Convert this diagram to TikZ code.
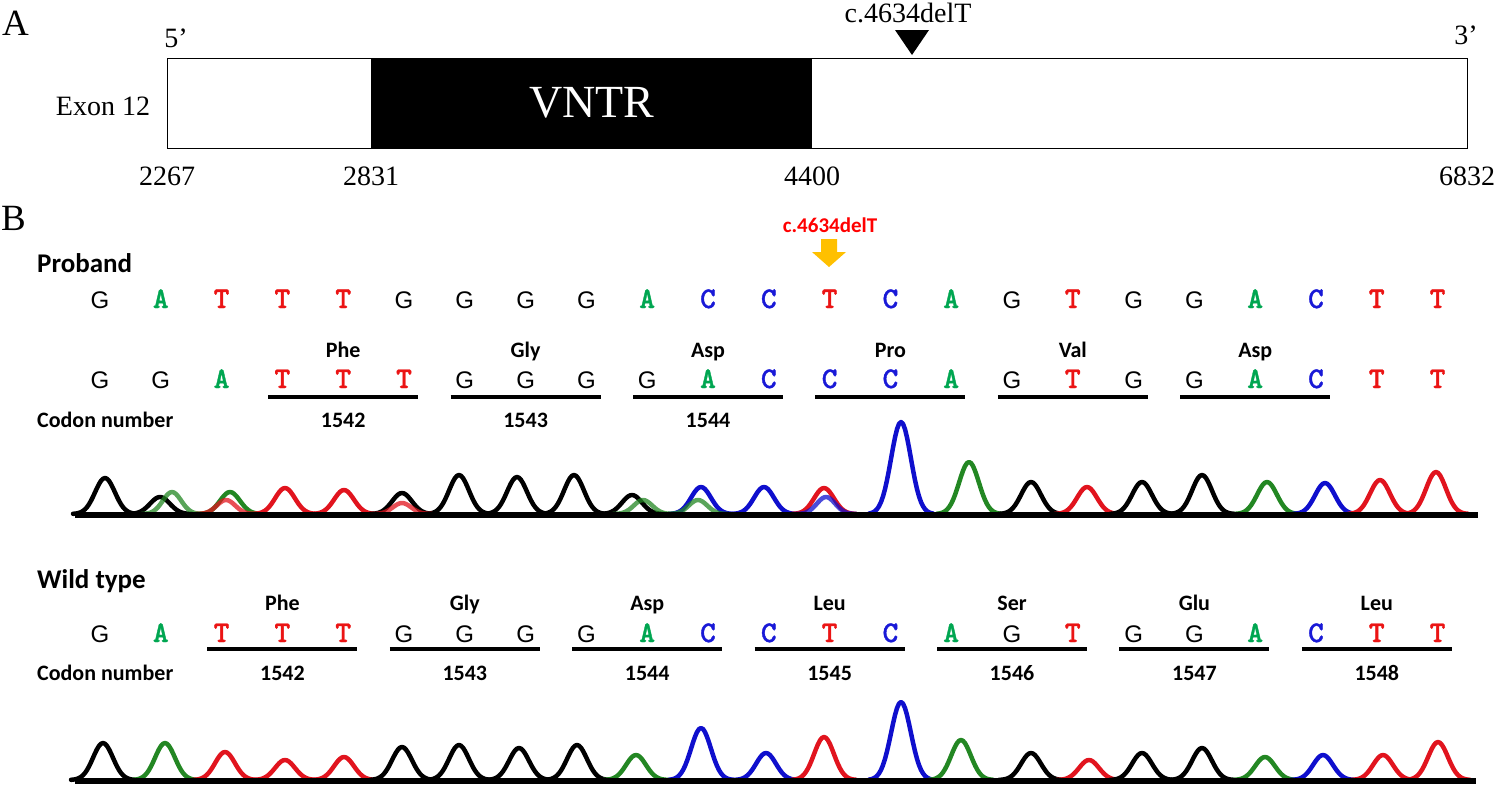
\documentclass[tikz,border=0pt]{standalone}
\usepackage{fontspec}
\setmainfont{Liberation Serif}
\newfontfamily\lblfont{Carlito}
\newfontfamily\seqGfont{Liberation Sans}
\newfontfamily\seqfont{lmmonolt10-bold.otf}[FakeBold=1.2]
\definecolor{baseA}{RGB}{0,166,81}
\definecolor{baseT}{RGB}{235,20,20}
\definecolor{baseC}{RGB}{25,25,215}
\definecolor{trG}{RGB}{35,135,35}
\definecolor{trR}{RGB}{225,20,30}
\definecolor{trB}{RGB}{15,15,205}
\definecolor{arrowyel}{RGB}{255,192,0}
\tikzset{
  every node/.style={inner sep=0pt},
  serif/.style={anchor=base, font=\fontsize{28}{28}\selectfont},
  ntG/.style={anchor=base, font=\seqGfont\fontsize{24}{24}\selectfont},
  ntA/.style={anchor=base, text=baseA, font=\seqfont\fontsize{30}{30}\selectfont},
  ntT/.style={anchor=base, text=baseT, font=\seqfont\fontsize{30}{30}\selectfont},
  ntC/.style={anchor=base, text=baseC, font=\seqfont\fontsize{30}{30}\selectfont},
  aalbl/.style={anchor=base, font=\lblfont\bfseries\fontsize{22}{22}\selectfont},
  title/.style={anchor=base west, font=\lblfont\bfseries\fontsize{27}{27}\selectfont},
  codonline/.style={line width=3.5pt},
  trace/.style={line width=4.5pt, line join=round, line cap=round},
}
\begin{document}
\begin{tikzpicture}[x=1pt,y=-1pt]
\useasboundingbox (0,0) rectangle (1495,788);
% A: exon 12 map
\node[anchor=base west, font=\fontsize{37}{37}\selectfont] (panelA) at (2,35) {A};
\node[draw, line width=1.3pt, minimum width=1300pt, minimum height=90pt, anchor=north west] (exon) at (167,58) {};
\node[fill=black, minimum width=441pt, minimum height=90pt, anchor=north west, text=white, font=\fontsize{46}{46}\selectfont] (vntr) at (371,58) {VNTR};
\node[serif] (exonlbl) at (103,115) {Exon 12};
\node[serif] (five) at (176,47) {5’};
\node[serif] (three) at (1466,44) {3’};
\foreach \px/\pos in {167/2267, 371/2831, 812/4400, 1467/6832}
  \node[serif] (pos\pos) at (\px,185) {\pos};
\node[serif] (delA) at (908,22) {c.4634delT};
\fill (895,30) -- (929,30) -- (912,55) -- cycle;
% B: sequences
\node[anchor=base west, font=\fontsize{37}{37}\selectfont] (panelB) at (1,230) {B};
\node[title] (proband) at (37,272) {Proband};
\node[anchor=base, text=red, font=\lblfont\bfseries\fontsize{21}{21}\selectfont] (delB) at (830,232) {c.4634delT};
\fill[arrowyel] (821,239) -- (837,239) -- (837,252) -- (846,252) -- (829,267) -- (812,252) -- (821,252) -- cycle;
\foreach \b [count=\i from 0] in {G,A,T,T,T,G,G,G,G,A,C,C,T,C,A,G,T,G,G,A,C,T,T}
  \node[nt\b] (top\i) at ({100+60.8*\i},308) {\b};
\foreach \b [count=\i from 0] in {G,G,A,T,T,T,G,G,G,G,A,C,C,C,A,G,T,G,G,A,C,T,T}
  \node[nt\b] (mut\i) at ({100+60.8*\i},388) {\b};
\foreach \c/\aa/\num [count=\k] in {343.2/Phe/1542, 525.6/Gly/1543, 708/Asp/1544} {
  \node[aalbl] (paa\k) at (\c,357) {\aa};
  \draw[codonline] (\c-75,397) -- (\c+75,397);
  \node[aalbl] (pnum\k) at (\c,427) {\num};
}
\foreach \c/\aa [count=\k from 4] in {890.4/Pro, 1072.8/Val, 1255.2/Asp} {
  \node[aalbl] (paa\k) at (\c,357) {\aa};
  \draw[codonline] (\c-75,397) -- (\c+75,397);
}
\node[aalbl, anchor=base west] (pcodon) at (37,427) {Codon number};
% proband trace
\foreach \c/\t/\col in {105/478/black, 160/497/black, 230/492/trG, 285/488/trR, 344/490/trR,
    402/493/black, 459/475/black, 517/477/black, 574/475/black, 632/495/black, 701/487/trB,
    764/487/trB, 824/488/trR, 901/422/trB, 969/462/trG, 1031/482/black, 1087/487/trR,
    1142/482/black, 1202/475/black, 1267/482/trG, 1325/483/trB, 1380/480/trR, 1436/472/trR}
  \draw[trace,\col] plot[domain=\c-32:\c+32, samples=33] (\x,{514-(514-\t)*exp(-((\x-\c)/14)^2)});
\foreach \c/\t/\col in {172/492/trG, 226/500/trR, 402/503/trR, 643/500/trG, 698/500/trG, 826/497/trB}
  \draw[trace,\col,opacity=0.75] plot[domain=\c-30:\c+30, samples=31] (\x,{514-(514-\t)*exp(-((\x-\c)/13)^2)});
\draw[line width=6.5pt] (75,515) -- (1478,515);
% wild type
\node[title] (wild) at (37,588) {Wild type};
\foreach \b [count=\i from 0] in {G,A,T,T,T,G,G,G,G,A,C,C,T,C,A,G,T,G,G,A,C,T,T}
  \node[nt\b] (wt\i) at ({100+60.8*\i},642) {\b};
\foreach \c/\aa/\num [count=\k] in {282.4/Phe/1542, 464.8/Gly/1543, 647.2/Asp/1544,
    829.6/Leu/1545, 1012/Ser/1546, 1194.4/Glu/1547, 1376.8/Leu/1548} {
  \node[aalbl] (waa\k) at (\c,610) {\aa};
  \draw[codonline] (\c-75,649) -- (\c+75,649);
  \node[aalbl] (wnum\k) at (\c,680) {\num};
}
\node[aalbl, anchor=base west] (wcodon) at (37,680) {Codon number};
\foreach \c/\t/\col in {103/743/black, 165/743/trG, 225/752/trR, 285/760/trR, 344/757/trR,
    402/747/black, 459/745/black, 519/748/black, 577/745/black, 636/755/trG, 701/728/trB,
    766/753/trB, 824/737/trR, 901/702/trB, 961/740/trG, 1031/753/black, 1089/760/trR,
    1142/753/black, 1202/748/black, 1265/757/trG, 1323/755/trB, 1383/755/trR, 1438/742/trR}
  \draw[trace,\col] plot[domain=\c-32:\c+32, samples=33] (\x,{780-(780-\t)*exp(-((\x-\c)/14)^2)});
\draw[line width=6.5pt] (75,781) -- (1476,781);
\end{tikzpicture}
\end{document}
